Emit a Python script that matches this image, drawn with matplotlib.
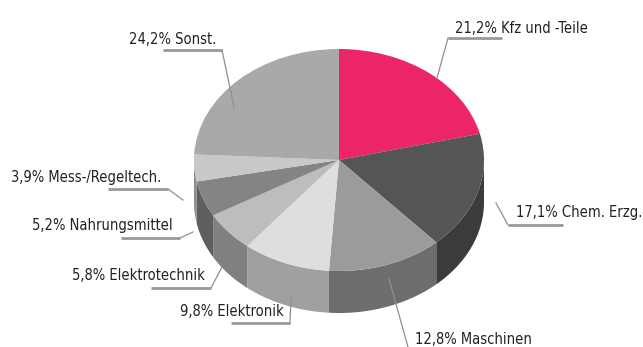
import numpy as np
import matplotlib
matplotlib.use("Agg")
import matplotlib.pyplot as plt

# Exportanteile in Prozent, im Uhrzeigersinn ab 12 Uhr
branchen = ["Kfz und -Teile", "Chem. Erzg.", "Maschinen", "Elektronik",
            "Elektrotechnik", "Nahrungsmittel", "Mess-/Regeltech.", "Sonst."]
anteile = [21.2, 17.1, 12.8, 9.8, 5.8, 5.2, 3.9, 24.2]

farben_oben = ["#ec2569", "#545653", "#9c9a9d", "#dedede",
               "#bdbdbd", "#848484", "#c8c8c8", "#a9a9a9"]
farben_rand = ["#b01c4e", "#3a3c39", "#6e6c6f", "#a0a0a0",
               "#808080", "#5f5f5f", "#8c8c8c", "#777777"]

# Pixelmasse der Ellipse
W, H = 643, 347
CX, CY = 339, 160
RX, RY = 145, 111
TIEFE = 42 / RY

# Beschriftung: linker Rand und Mitte in Pixeln
text_pos = [(455, 28), (516, 212), (415, 339), (180, 311),
            (72, 276), (32, 225), (11, 177), (129, 39)]
# Fuehrungslinien: erst die dicke Unterstreichung, dann der duenne Strich
linien = [
    [(502, 38), (448, 38), (437, 78)],
    [(563, 225), (508, 225), (496, 203)],
    [(408, 347), (408, 347), (389, 279)],
    [(231, 323), (290, 323), (291, 297)],
    [(151, 288), (211, 288), (222, 267)],
    [(121, 238), (180, 238), (193, 232)],
    [(108, 189), (168, 189), (183, 200)],
    [(163, 50), (222, 50), (234, 107)],
]

fig = plt.figure(figsize=(W / 100, H / 100), dpi=100)
ax = fig.add_axes([0, 0, 1, 1])

# Seitenwand: nur die vordere Haelfte (90 bis 270 Grad ab 12 Uhr) ist sichtbar
grenzen = np.cumsum([0] + anteile) * 3.6
for i in range(len(anteile)):
    a = max(grenzen[i], 90)
    b = min(grenzen[i + 1], 270)
    if b <= a:
        continue
    w = np.radians(np.linspace(a, b, 60))
    x = np.sin(w)
    y = np.cos(w)
    ax.fill(np.r_[x, x[::-1]], np.r_[y, y[::-1] - TIEFE],
            color=farben_rand[i], linewidth=0)

ax.pie(anteile, colors=farben_oben, startangle=90, counterclock=False,
       radius=1, wedgeprops={"linewidth": 0})

ax.set_aspect("auto")
ax.set_xlim(-CX / RX, (W - CX) / RX)
ax.set_ylim((CY - H) / RY, CY / RY)
ax.axis("off")

# Zweite Achse in Pixeln fuer Linien und Texte
ov = fig.add_axes([0, 0, 1, 1])
ov.set_xlim(0, W)
ov.set_ylim(H, 0)
ov.axis("off")
ov.patch.set_alpha(0)

for pts in linien:
    ov.plot([pts[0][0], pts[1][0]], [pts[0][1], pts[1][1]],
            color="#999999", linewidth=2.0, solid_capstyle="butt")
    ov.plot([pts[1][0], pts[2][0]], [pts[1][1], pts[2][1]],
            color="#8f8f8f", linewidth=0.9)

for name, wert, (x, y) in zip(branchen, anteile, text_pos):
    label = f"{wert:.1f}".replace(".", ",") + "% " + name
    ov.text(x, y, label, fontsize=10.5, family="DejaVu Sans", stretch="condensed",
            color="#222222", va="center", ha="left")

fig.savefig("out.png", dpi=100)
